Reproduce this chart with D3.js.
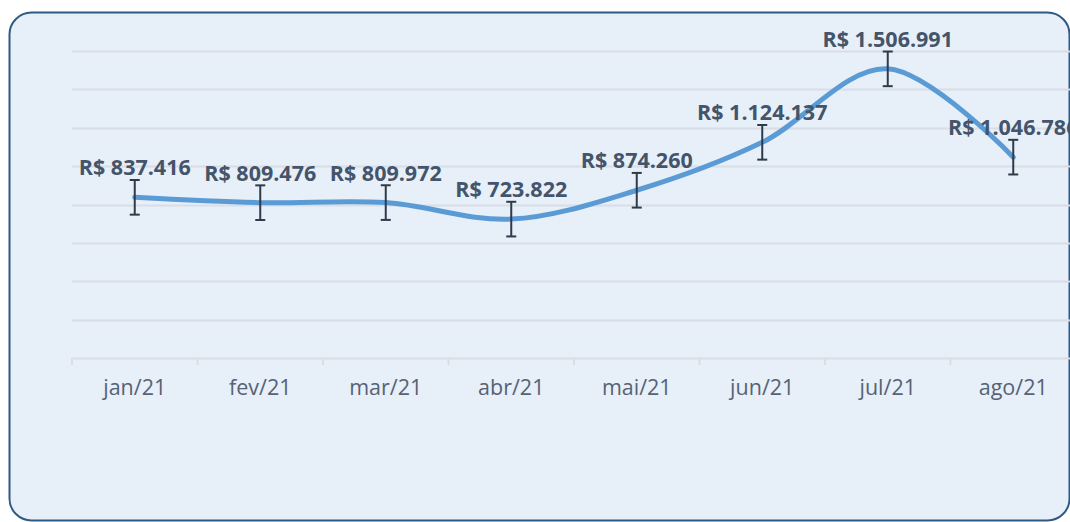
<!DOCTYPE html>
<html>
<head>
<meta charset="utf-8">
<script src="https://cdn.jsdelivr.net/npm/d3@7"></script>
<style>
  html, body { margin: 0; padding: 0; background: #fff; }
  svg { display: block; }
</style>
</head>
<body>
<div id="chart"></div>
<script>
// Monthly values (R$) with standard error bars

const months = ["jan/21", "fev/21", "mar/21", "abr/21", "mai/21", "jun/21", "jul/21", "ago/21"];
const values = [837416, 809476, 809972, 723822, 874260, 1124137, 1506991, 1046786];
const yTicks = [0, 200000, 400000, 600000, 800000, 1000000, 1200000, 1400000, 1600000];

const width = 1070,
    height = 522,
    margin = ({ top: 51, right: -6, bottom: 164, left: 72 });

const data = months.map((m, i) => ({ month: m, value: values[i] }));

// Excel style standard error: sample deviation / sqrt(n)
const stdErr = d3.deviation(values) / Math.sqrt(values.length);

const svg = d3.select("#chart")
  .append("svg")
  .attr("width", width)
  .attr("height", height)
  .attr("viewBox", [0, 0, width, height]);

// chart area frame
svg.append("rect")
  .attr("x", 9.5)
  .attr("y", 12.5)
  .attr("width", 1060)
  .attr("height", 508)
  .attr("rx", 22)
  .attr("fill", "#e7eff8")
  .attr("stroke", "#2e5b86")
  .attr("stroke-width", 2);

const x = d3.scaleBand()
  .domain(months)
  .range([margin.left, width - margin.right]);

const y = d3.scaleLinear()
  .domain([0, 1600000])
  .range([height - margin.bottom, margin.top]);

// gridlines
svg.append("g")
  .selectAll("line")
  .data(yTicks)
  .join("line")
  .attr("x1", margin.left)
  .attr("x2", width)
  .attr("y1", d => Math.round(y(d)) + 0.5)
  .attr("y2", d => Math.round(y(d)) + 0.5)
  .attr("stroke", "#d9dee5")
  .attr("stroke-width", 2);

// x axis
const xAxis = svg.append("g")
  .attr("transform", `translate(0,${Math.round(y(0)) + 0.5})`)
  .call(d3.axisBottom(x).tickSize(0).tickPadding(21));

xAxis.select(".domain").remove();
xAxis.selectAll("text")
  .attr("font-family", "'Open Sans', sans-serif")
  .attr("font-size", 21.5)
  .attr("fill", "#566276");

// tick marks between categories
svg.append("g")
  .selectAll("line")
  .data(months.concat(["end"]))
  .join("line")
  .attr("x1", (d, i) => x.range()[0] + i * x.step())
  .attr("x2", (d, i) => x.range()[0] + i * x.step())
  .attr("y1", y(0))
  .attr("y2", y(0) + 7)
  .attr("stroke", "#d9dee5")
  .attr("stroke-width", 2);

const cx = d => x(d.month) + x.bandwidth() / 2;

// smooth line
const line = d3.line()
  .x(cx)
  .y(d => y(d.value))
  .curve(d3.curveCatmullRom.alpha(0));

svg.append("path")
  .datum(data)
  .attr("d", line)
  .attr("fill", "none")
  .attr("stroke", "#5b9bd5")
  .attr("stroke-width", 5)
  .attr("stroke-linecap", "round");

// error bars
const err = svg.append("g")
  .attr("stroke", "#2f3a4a")
  .attr("stroke-width", 2);

err.selectAll(".stem")
  .data(data)
  .join("line")
  .attr("class", "stem")
  .attr("x1", cx).attr("x2", cx)
  .attr("y1", d => y(d.value + stdErr))
  .attr("y2", d => y(d.value - stdErr));

err.selectAll(".cap-top")
  .data(data)
  .join("line")
  .attr("class", "cap-top")
  .attr("x1", d => cx(d) - 5).attr("x2", d => cx(d) + 5)
  .attr("y1", d => y(d.value + stdErr))
  .attr("y2", d => y(d.value + stdErr));

err.selectAll(".cap-bot")
  .data(data)
  .join("line")
  .attr("class", "cap-bot")
  .attr("x1", d => cx(d) - 5).attr("x2", d => cx(d) + 5)
  .attr("y1", d => y(d.value - stdErr))
  .attr("y2", d => y(d.value - stdErr));

// data labels
const fmt = d3.formatLocale({ decimal: ",", thousands: ".", grouping: [3], currency: ["R$ ", ""] }).format("$,.0f");

svg.append("g")
  .selectAll("text")
  .data(data)
  .join("text")
  .attr("x", cx)
  .attr("y", d => y(d.value) - 22)
  .attr("text-anchor", "middle")
  .attr("font-family", "'Open Sans', sans-serif")
  .attr("font-weight", "bold")
  .attr("font-size", 21.5)
  .attr("fill", "#44546a")
  .text(d => fmt(d.value));
</script>
</body>
</html>
